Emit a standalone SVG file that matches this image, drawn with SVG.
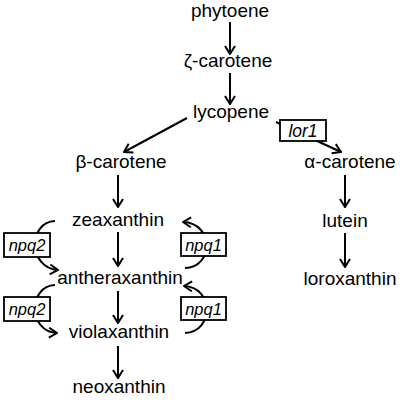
<svg xmlns="http://www.w3.org/2000/svg" width="404" height="401" viewBox="0 0 404 401">
<defs>
<marker id="ah" viewBox="0 0 10 12" refX="9" refY="6" markerWidth="10" markerHeight="12" markerUnits="userSpaceOnUse" orient="auto">
<path d="M1,1 L9,6 L1,11" fill="none" stroke="#000" stroke-width="2"/>
</marker>
</defs>
<style>
.t{font-family:"Liberation Sans",Arial,sans-serif;font-size:19px;fill:#000;text-anchor:middle}
.g{font-family:"Liberation Sans",Arial,sans-serif;font-size:16.5px;font-style:italic;fill:#000;text-anchor:middle}
.c{fill:none;stroke:#000;stroke-width:2;marker-end:url(#ah)}
.b{fill:#fff;stroke:#000;stroke-width:1.8}
</style>
<rect width="404" height="401" fill="#fff"/>
<g id="connectors">
<path class="c" d="M230,22 L230,54"/>
<path class="c" d="M230,73 L230,104"/>
<path class="c" d="M187,118 L124,152"/>
<path class="c" d="M276,122 L341,152"/>
<path class="c" d="M118,175 L118,207"/>
<path class="c" d="M345,175 L345,207"/>
<path class="c" d="M118,232 L118,266"/>
<path class="c" d="M345,233 L345,267"/>
<path class="c" d="M118,291 L118,323"/>
<path class="c" d="M118,346 L118,378"/>
<path class="c" d="M55,221 C28,222 28,268 58,270"/>
<path class="c" d="M55,285 C28,286 28,332 57,333"/>
<path class="c" d="M185,268 C214,267 214,223 183,222"/>
<path class="c" d="M185,333 C214,332 214,287 184,286"/>
</g>
<g id="phytoene"><text class="t" x="230" y="17">phytoene</text></g>
<g id="zeta-carotene"><text class="t" x="228" y="67">ζ-carotene</text></g>
<g id="lycopene"><text class="t" x="231" y="118">lycopene</text></g>
<g id="beta-carotene"><text class="t" x="121" y="168">β-carotene</text></g>
<g id="alpha-carotene"><text class="t" x="350" y="168">α-carotene</text></g>
<g id="zeaxanthin"><text class="t" x="118" y="226">zeaxanthin</text></g>
<g id="lutein"><text class="t" x="345" y="227">lutein</text></g>
<g id="antheraxanthin"><text class="t" x="120" y="284">antheraxanthin</text></g>
<g id="loroxanthin"><text class="t" x="350" y="285">loroxanthin</text></g>
<g id="violaxanthin"><text class="t" x="119" y="338">violaxanthin</text></g>
<g id="neoxanthin"><text class="t" x="119" y="393">neoxanthin</text></g>
<g id="lor1"><rect class="b" x="280" y="120" width="46" height="21"/><text class="g" x="303" y="136.5" style="font-size:17.5px">lor1</text></g>
<g id="npq2-a"><rect class="b" x="4" y="233" width="46" height="24"/><text class="g" x="27" y="251">npq2</text></g>
<g id="npq2-b"><rect class="b" x="4" y="297" width="46" height="24"/><text class="g" x="27" y="315">npq2</text></g>
<g id="npq1-a"><rect class="b" x="181" y="233" width="45" height="23"/><text class="g" x="203.5" y="251">npq1</text></g>
<g id="npq1-b"><rect class="b" x="181" y="297" width="45" height="23"/><text class="g" x="203.5" y="315">npq1</text></g>
</svg>
